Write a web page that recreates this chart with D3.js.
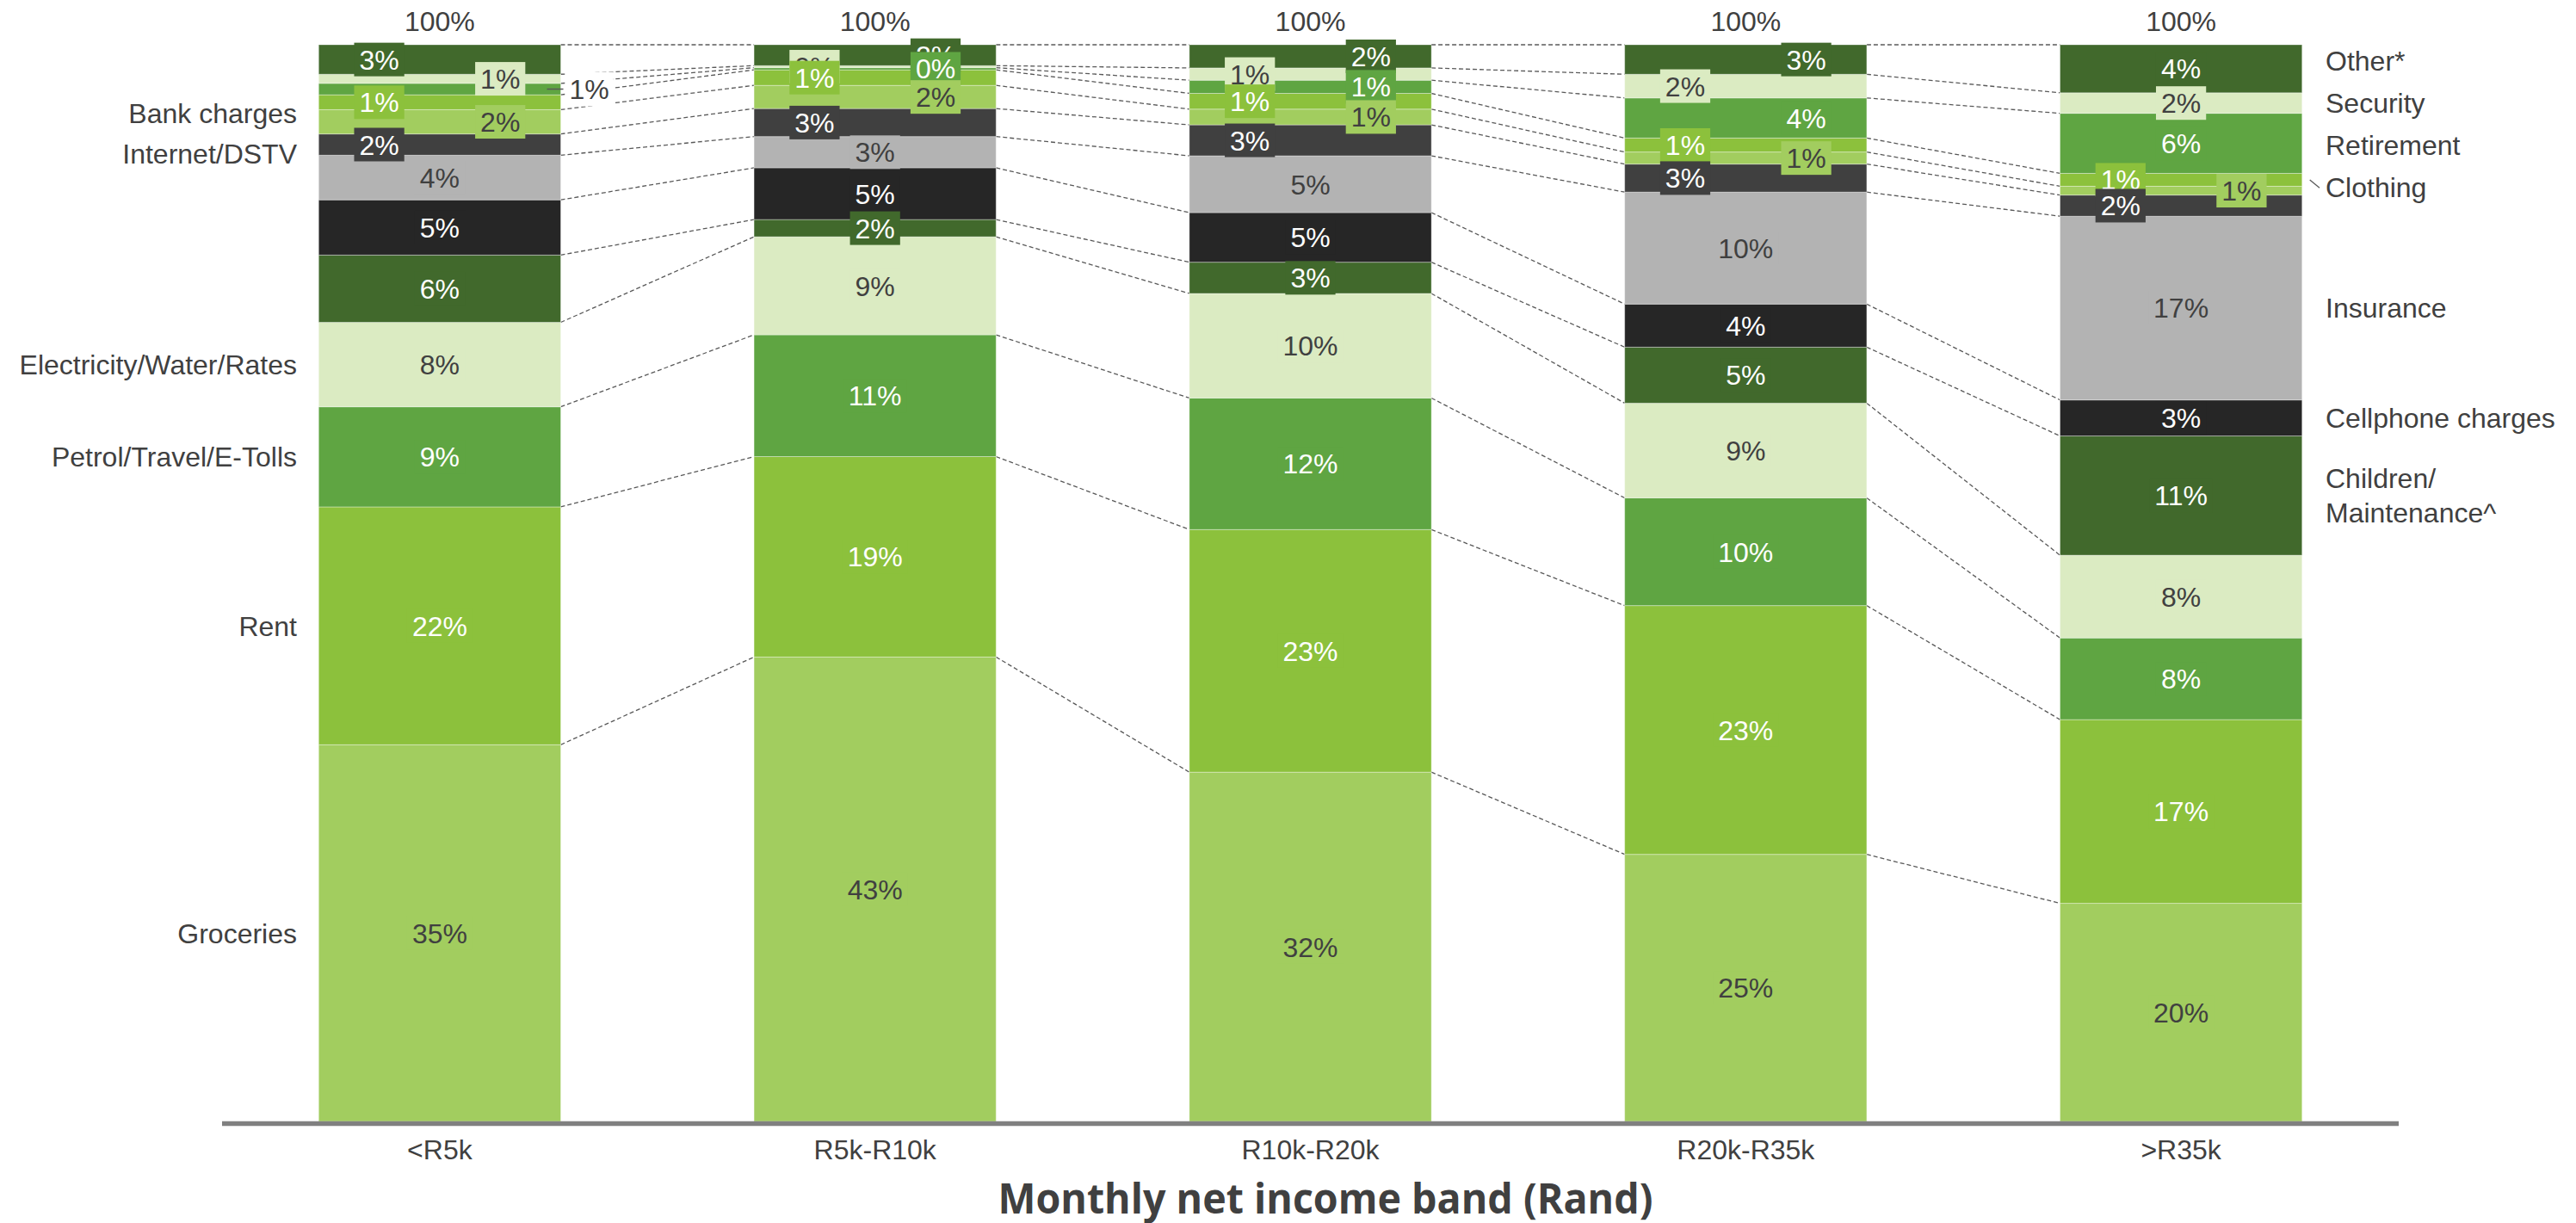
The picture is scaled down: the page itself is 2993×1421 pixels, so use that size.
<!DOCTYPE html>
<html>
<head>
<meta charset="utf-8">
<script src="https://cdn.jsdelivr.net/npm/d3@7"></script>
<style>
  body { margin: 0; background: #fff; }
  svg text { font-family: "Liberation Sans", Arial, sans-serif; }
</style>
</head>
<body>
<div id="svgcontainer"></div>
<script>
/***************************************************************** */
/* data (share of monthly spend, % of net income)
/***************************************************************** */
const income_bands = ["<R5k", "R5k-R10k", "R10k-R20k", "R20k-R35k", ">R35k"]

// stacked bottom -> top
const categories = ["Groceries", "Rent", "Petrol/Travel/E-Tolls", "Electricity/Water/Rates",
    "Children/Maintenance^", "Cellphone charges", "Insurance", "Internet/DSTV",
    "Bank charges", "Clothing", "Retirement", "Security", "Other*"]

const groceries   = [35.0, 43.1, 32.4, 24.8, 20.3]
const rent        = [22.1, 18.6, 22.5, 23.1, 17.1]
const petrol      = [9.3, 11.3, 12.2, 10.0, 7.6]
const electricity = [7.85, 9.1, 9.7, 8.8, 7.7]
const children    = [6.25, 1.6, 2.9, 5.2, 11.1]
const cellphone   = [5.13, 4.8, 4.6, 4.0, 3.35]
const insurance   = [4.15, 2.9, 5.27, 10.4, 17.1]
const internet    = [1.97, 2.6, 2.87, 2.6, 1.97]
const bank        = [2.26, 2.15, 1.46, 1.12, 0.82]
const clothing    = [1.38, 1.44, 1.46, 1.3, 1.2]
const retirement  = [1.06, 0.2, 1.22, 3.72, 5.59]
const security    = [0.85, 0.19, 1.14, 2.2, 1.91]
const other       = [2.74, 1.94, 2.15, 2.74, 4.47]

const series_values = [groceries, rent, petrol, electricity, children, cellphone,
    insurance, internet, bank, clothing, retirement, security, other]

// which legend names sit left of the first bar / right of the last one
const left_names  = ["Groceries", "Rent", "Petrol/Travel/E-Tolls", "Electricity/Water/Rates", "Internet/DSTV", "Bank charges"]
const right_names = ["Children/Maintenance^", "Cellphone charges", "Insurance", "Clothing", "Retirement", "Security", "Other*"]

// where each data label goes inside a bar (one char per category, bottom -> top)
// c = centre, l = left, r = right, o = outside to the right
const label_slots = ["ccccccclrlorl", "ccccccclrlrlr", "ccccccclrlrlr", "ccccccclrlrlr", "ccccccclrlccc"]

const palette = ["#A2CD5F", "#8CC13C", "#5FA542", "#DBEBC2", "#41692C", "#262626", "#B3B3B3", "#404040",
    "#A2CD5F", "#8CC13C", "#5FA542", "#DBEBC2", "#41692C"]
const dark_text = "#404040"
const light_fills = ["#A2CD5F", "#DBEBC2", "#B3B3B3"]

/**------------------------------------------------------------------------
 *                           SETUP
 *------------------------------------------------------------------------**/
const svg_width = 2993, svg_height = 1421
const axis_left = 258, axis_right = 2787
const bar_top = 52, bar_bottom = 1303
const font_px = 32

let svg = d3.select("#svgcontainer")
    .append("svg")
    .attr("width", svg_width)
    .attr("height", svg_height)

let xScale = d3.scaleBand()
    .domain(income_bands)
    .range([axis_left, axis_right])
    .paddingInner(0.444)
    .paddingOuter(0.222)

let yScale = d3.scaleLinear().domain([0, 1]).range([bar_bottom, bar_top])

let color = d3.scaleOrdinal(categories, palette)

// table for d3.stack
let rows = income_bands.map((band, i) => {
    let row = { band: band }
    categories.forEach((c, j) => { row[c] = series_values[j][i] })
    return row
})

let stacked = d3.stack()
    .keys(categories)
    .offset(d3.stackOffsetExpand)(rows)

const bw = xScale.bandwidth()

/**------------------------------------------------------------------------
 *                   dashed connectors between bars
 *------------------------------------------------------------------------**/
let connectors = svg.append("g").attr("id", "connectors")
stacked.forEach(layer => {
    for (let i = 0; i < income_bands.length - 1; i++) {
        connectors.append("line")
            .attr("x1", xScale(income_bands[i]) + bw)
            .attr("y1", yScale(layer[i][1]))
            .attr("x2", xScale(income_bands[i + 1]))
            .attr("y2", yScale(layer[i + 1][1]))
            .attr("stroke", "#595959")
            .attr("stroke-width", 1.3)
            .attr("stroke-dasharray", "5,3")
    }
})

/**------------------------------------------------------------------------
 *                           bars
 *------------------------------------------------------------------------**/
let bars = svg.append("g").attr("id", "barchart")
bars.selectAll("g.layer")
    .data(stacked)
    .join("g")
    .attr("class", "layer")
    .attr("fill", d => color(d.key))
    .selectAll("rect")
    .data(d => d)
    .join("rect")
    .attr("x", d => xScale(d.data.band))
    .attr("y", d => yScale(d[1]))
    .attr("width", bw)
    .attr("height", d => yScale(d[0]) - yScale(d[1]))
    .attr("stroke", "rgba(255,255,255,0.35)")
    .attr("stroke-width", 1)

// axis line
svg.append("line")
    .attr("x1", axis_left).attr("x2", axis_right)
    .attr("y1", bar_bottom + 2.5).attr("y2", bar_bottom + 2.5)
    .attr("stroke", "#808080")
    .attr("stroke-width", 5.5)

// category labels under the axis
svg.append("g")
    .selectAll("text")
    .data(income_bands)
    .join("text")
    .attr("x", d => xScale(d) + bw / 2)
    .attr("y", 1347)
    .attr("text-anchor", "middle")
    .attr("font-size", font_px)
    .attr("fill", dark_text)
    .text(d => d)

// totals on top of each bar
svg.append("g")
    .selectAll("text")
    .data(rows)
    .join("text")
    .attr("x", d => xScale(d.band) + bw / 2)
    .attr("y", 36)
    .attr("text-anchor", "middle")
    .attr("font-size", font_px)
    .attr("fill", dark_text)
    .text("100%")

/**------------------------------------------------------------------------
 *                           data labels
 *------------------------------------------------------------------------**/
let labels = svg.append("g").attr("id", "labels")
income_bands.forEach((band, i) => {
    // top category first so that lower labels overlap the upper ones
    for (let j = categories.length - 1; j >= 0; j--) {
        let seg = stacked[j][i]
        let value = series_values[j][i]
        let slot = label_slots[i][j]
        let cy = (yScale(seg[0]) + yScale(seg[1])) / 2
        let x0 = xScale(band)
        let fill = color(categories[j])
        let cx = x0 + bw / 2
        if (slot == "l") cx = x0 + bw * 0.25
        if (slot == "r") cx = x0 + bw * 0.75

        let g = labels.append("g")
        let txt_fill = light_fills.includes(fill) ? dark_text : "#ffffff"
        if (slot == "o") {
            cx = x0 + bw + 10
            txt_fill = dark_text
            // short leader from the segment out to the label
            g.append("rect")
                .attr("x", x0 + bw + 5).attr("y", cy - 20)
                .attr("width", 56).attr("height", 40)
                .attr("fill", "#fff")
            g.append("line")
                .attr("x1", x0 + bw - 16).attr("x2", x0 + bw + 3)
                .attr("y1", cy).attr("y2", cy)
                .attr("stroke", "#595959").attr("stroke-width", 1.5)
        }
        let box = g.append("rect")
        let t = g.append("text")
            .attr("x", cx)
            .attr("y", cy)
            .attr("dy", "0.36em")
            .attr("text-anchor", slot == "o" ? "start" : "middle")
            .attr("font-size", font_px)
            .attr("fill", txt_fill)
            .text(Math.round(value) + "%")
        if (slot != "o") {
            let w = t.node().getComputedTextLength() + 12
            box.attr("x", cx - w / 2).attr("y", cy - 19.5)
                .attr("width", w).attr("height", 39)
                .attr("fill", fill)
        } else {
            box.remove()
        }
    }
})

/**------------------------------------------------------------------------
 *                  category names beside the first / last bar
 *------------------------------------------------------------------------**/
function spread(items, gap) {
    items.sort((a, b) => a.y - b.y)
    for (let k = 0; k < 200; k++) {
        for (let i = 1; i < items.length; i++) {
            let need = gap + (items[i].h + items[i - 1].h) / 2 - 2 * 20
            let d = items[i].y - items[i - 1].y
            if (d < need) {
                let s = (need - d) / 2
                items[i - 1].y -= s
                items[i].y += s
            }
        }
    }
    return items
}

function name_items(names, band_index) {
    return names.map(n => {
        let j = categories.indexOf(n)
        let seg = stacked[j][band_index]
        let y = (yScale(seg[0]) + yScale(seg[1])) / 2
        let lines = n == "Children/Maintenance^" ? ["Children/", "Maintenance^"] : [n]
        return { name: n, y: y, seg_y: y, lines: lines, h: lines.length * 40 }
    })
}

let left_items = spread(name_items(left_names, 0), 47)
let right_items = spread(name_items(right_names, income_bands.length - 1), 49)

function draw_names(items, x, anchor) {
    items.forEach(it => {
        let t = svg.append("text")
            .attr("x", x)
            .attr("text-anchor", anchor)
            .attr("font-size", font_px)
            .attr("fill", dark_text)
        it.lines.forEach((line, k) => {
            t.append("tspan")
                .attr("x", x)
                .attr("y", it.y + (k - (it.lines.length - 1) / 2) * 40)
                .attr("dy", "0.36em")
                .text(line)
        })
    })
}
draw_names(left_items, 345, "end")
draw_names(right_items, 2702, "start")

// small leader for Clothing, whose name got pushed down
let last_right = xScale(income_bands[income_bands.length - 1]) + bw
right_items.filter(it => it.name == "Clothing").forEach(it => {
    svg.append("line")
        .attr("x1", last_right + 9).attr("y1", it.seg_y)
        .attr("x2", 2695).attr("y2", it.y + 1)
        .attr("stroke", "#595959").attr("stroke-width", 1.3)
})

// axis title
svg.append("text")
    .attr("x", 1540)
    .attr("y", 1410)
    .attr("text-anchor", "middle")
    .attr("font-size", 49)
    .attr("font-weight", 700)
    .attr("fill", dark_text)
    .style("font-family", "'Open Sans', sans-serif")
    .attr("textLength", 761)
    .attr("lengthAdjust", "spacingAndGlyphs")
    .text("Monthly net income band (Rand)")
</script>
</body>
</html>
